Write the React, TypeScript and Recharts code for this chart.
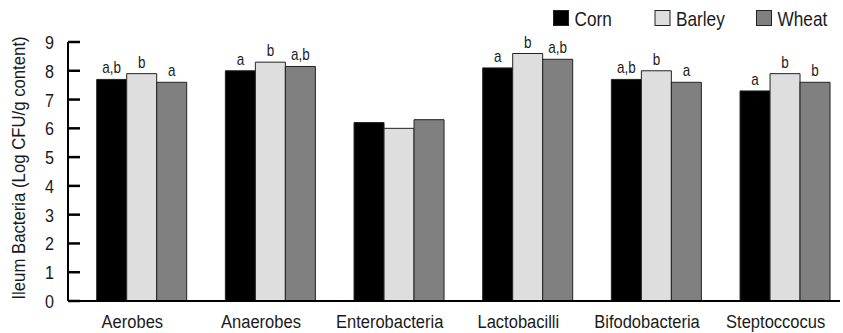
import React from 'react';
import { BarChart, Bar, XAxis, YAxis, Legend, LabelList, Rectangle } from 'recharts';

const categories = ['Aerobes', 'Anaerobes', 'Enterobacteria', 'Lactobacilli', 'Bifodobacteria', 'Steptoccocus'];
const corn = [7.7, 8.0, 6.2, 8.1, 7.7, 7.3];
const barley = [7.9, 8.3, 6.0, 8.6, 8.0, 7.9];
const wheat = [7.6, 8.15, 6.3, 8.4, 7.6, 7.6];
const cornLetters = ['a,b', 'a', '', 'a', 'a,b', 'a'];
const barleyLetters = ['b', 'b', '', 'b', 'b', 'b'];
const wheatLetters = ['a', 'a,b', '', 'a,b', 'a', 'b'];
const yTicks = [0, 1, 2, 3, 4, 5, 6, 7, 8, 9];
const seriesNames = ['Corn', 'Barley', 'Wheat'];
const yAxisTitle = 'Ileum Bacteria (Log CFU/g content)';

const data = categories.map((c, i) => ({
  category: c,
  corn: corn[i],
  barley: barley[i],
  wheat: wheat[i],
  cornL: cornLetters[i],
  barleyL: barleyLetters[i],
  wheatL: wheatLetters[i],
}));

const FONT = "'Liberation Sans', Arial, sans-serif";
const TEXT = '#1a1a1a';
const BAR_SHIFT = 9.7;

// Narrow-looking text: a regular sans squeezed horizontally
const NText = (p: any) => {
  const { x, y, sx, size, anchor = 'middle', rotate = false, children } = p;
  return (
    <text
      transform={`translate(${x}, ${y})${rotate ? ' rotate(-90)' : ''} scale(${sx}, 1)`}
      textAnchor={anchor}
      fontSize={size}
      fontFamily={FONT}
      fill={TEXT}
    >
      {children}
    </text>
  );
};

const ShiftedBar = (props: any) => <Rectangle {...props} x={props.x + BAR_SHIFT} />;

const Letter = (props: any) => {
  const { x, y, width, value } = props;
  if (!value) return null;
  return (
    <NText x={x + width / 2 + BAR_SHIFT} y={y - 6} sx={0.84} size={16}>
      {value}
    </NText>
  );
};

const YTick = (props: any) => {
  const { x, y, payload } = props;
  return (
    <g>
      <line x1={x + 14} x2={x + 26} y1={y} y2={y} stroke="#000" strokeWidth={2.5} />
      <NText x={x} y={y + 7} sx={0.85} size={19} anchor="end">
        {payload.value}
      </NText>
    </g>
  );
};

const XTick = (props: any) => {
  const { x, y, payload } = props;
  return (
    <NText x={x} y={y + 27} sx={0.87} size={19}>
      {payload.value}
    </NText>
  );
};

const YTitle = () => (
  <NText x={25} y={168} sx={0.93} size={18} rotate>
    {yAxisTitle}
  </NText>
);

const renderLegend = (props: any) => {
  const payload = [...(props.payload || [])].sort(
    (a: any, b: any) => seriesNames.indexOf(a.value) - seriesNames.indexOf(b.value)
  );
  return (
    <svg width={300} height={34} style={{ display: 'block' }}>
      {payload.map((p: any, i: number) => {
        const x0 = 13.5 + i * 101.5;
        return (
          <g key={p.value}>
            <rect x={x0} y={10.5} width={15} height={15} fill={p.color} stroke="#222" strokeWidth={1} />
            <NText x={x0 + 21} y={26} sx={0.82} size={21} anchor="start">
              {p.value}
            </NText>
          </g>
        );
      })}
    </svg>
  );
};

export default function App() {
  return (
    <div style={{ position: 'absolute', left: 0, top: 0, width: 843, height: 333, background: '#fff' }}>
      <BarChart width={843} height={333} data={data} margin={{ top: 42, right: 3, bottom: 2, left: 0 }} barGap={0} barCategoryGap={0}>
        <XAxis
          dataKey="category"
          height={30}
          interval={0}
          axisLine={{ stroke: '#000', strokeWidth: 2 }}
          tickLine={false}
          tickSize={0}
          tickMargin={0}
          tick={<XTick />}
        />
        <YAxis
          width={68}
          domain={[0, 9]}
          ticks={yTicks}
          allowDataOverflow
          axisLine={{ stroke: '#000', strokeWidth: 2 }}
          tickLine={false}
          tickSize={0}
          tickMargin={14}
          tick={<YTick />}
          label={{ content: <YTitle /> }}
        />
        <Legend
          verticalAlign="middle"
          align="center"
          layout="horizontal"
          content={renderLegend}
          wrapperStyle={{ top: 0, left: 540, width: 300, height: 34 }}
        />
        <Bar dataKey="corn" name={seriesNames[0]} fill="#000000" stroke="#222" strokeWidth={1} barSize={30} shape={<ShiftedBar />} isAnimationActive={false}>
          <LabelList dataKey="cornL" content={<Letter />} />
        </Bar>
        <Bar dataKey="barley" name={seriesNames[1]} fill="#dedede" stroke="#222" strokeWidth={1} barSize={30} shape={<ShiftedBar />} isAnimationActive={false}>
          <LabelList dataKey="barleyL" content={<Letter />} />
        </Bar>
        <Bar dataKey="wheat" name={seriesNames[2]} fill="#808080" stroke="#222" strokeWidth={1} barSize={30} shape={<ShiftedBar />} isAnimationActive={false}>
          <LabelList dataKey="wheatL" content={<Letter />} />
        </Bar>
      </BarChart>
    </div>
  );
}
